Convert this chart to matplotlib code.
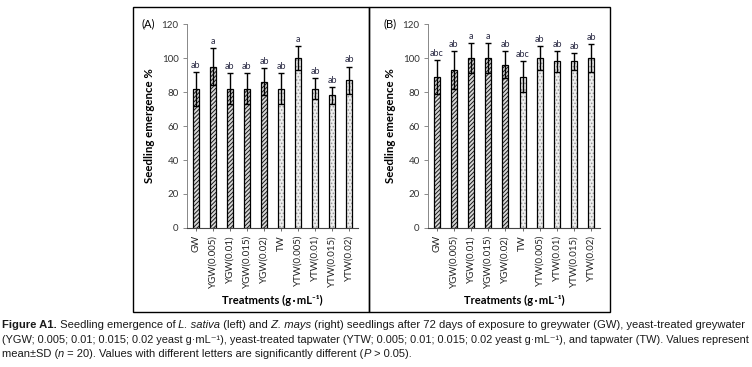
import numpy as np
import matplotlib.pyplot as plt
from matplotlib.patches import Rectangle

W, H = 752, 367

treatments = ['GW', 'YGW(0.005)', 'YGW(0.01)', 'YGW(0.015)', 'YGW(0.02)',
              'TW', 'YTW(0.005)', 'YTW(0.01)', 'YTW(0.015)', 'YTW(0.02)']

# (A) L. sativa
lettuce_mean = [82, 95, 82, 82, 86, 82, 100, 82, 78, 87]
lettuce_sd = [10, 11, 9, 9, 8, 9, 7, 6, 5, 8]
lettuce_letters = ['ab', 'a', 'ab', 'ab', 'ab', 'ab', 'a', 'ab', 'ab', 'ab']

# (B) Z. mays
maize_mean = [89, 93, 100, 100, 96, 89, 100, 98, 98, 100]
maize_sd = [10, 11, 9, 9, 8, 9, 7, 6, 5, 8]
maize_letters = ['abc', 'ab', 'a', 'a', 'ab', 'abc', 'ab', 'ab', 'ab', 'ab']

chart_font = ['Lato', 'DejaVu Sans']
cap_font = ['Liberation Sans Narrow', 'Liberation Sans', 'DejaVu Sans']
plt.rcParams['font.family'] = chart_font
plt.rcParams['hatch.linewidth'] = 0.7

fig = plt.figure(figsize=(W / 100, H / 100), dpi=100)


def px_axes(l, t, r, b):
    return fig.add_axes([l / W, 1 - b / H, (r - l) / W, (b - t) / H])


def draw_panel(ax, means, sds, letters):
    x = np.arange(len(treatments))
    dark = x < 5
    for i in x:
        if dark[i]:
            ax.bar(i, means[i], 0.35, color='#d8d8d8', edgecolor='#1a1a1a',
                   hatch='////////', linewidth=0, zorder=2)
        else:
            ax.bar(i, means[i], 0.35, color='#eeeeee', edgecolor='#9a9a9a',
                   hatch='.....', linewidth=0, zorder=2)
    ax.bar(x, means, 0.35, fill=False, edgecolor='black', linewidth=0.9, zorder=3)
    ax.errorbar(x, means, yerr=sds, fmt='none', ecolor='black', elinewidth=1,
                capsize=2, capthick=1, zorder=4)
    for i in x:
        ax.text(i, means[i] + sds[i] + 1.2, letters[i], ha='center', va='bottom',
                fontsize=6.5, color='#2a2a44')
    ax.set_xlim(-0.5, 9.5)
    ax.set_ylim(0, 120)
    ax.set_yticks(range(0, 121, 20))
    ax.set_xticks(x)
    ax.set_xticklabels(treatments, rotation=90, fontsize=7)
    ax.tick_params(axis='y', labelsize=7, length=3, width=0.6, colors='#777777',
                   labelcolor='#333333', pad=3)
    ax.tick_params(axis='x', length=2, width=0.6, colors='#555555',
                   labelcolor='#222222', pad=3)
    for s in ['top', 'right']:
        ax.spines[s].set_visible(False)
    ax.spines['left'].set_color('#888888')
    ax.spines['bottom'].set_color('#444444')
    ax.spines['left'].set_linewidth(0.7)
    ax.spines['bottom'].set_linewidth(0.8)
    ax.set_ylabel('Seedling emergence %', fontsize=8.3, fontweight='bold', labelpad=5)
    ax.set_xlabel('Treatments (g\u2009\u00b7\u2009mL\u207b\u00b9)', fontsize=8,
                  fontweight='bold', labelpad=5)


ax1 = px_axes(187, 24, 358, 228)
draw_panel(ax1, lettuce_mean, lettuce_sd, lettuce_letters)
ax2 = px_axes(428, 24, 600, 228)
draw_panel(ax2, maize_mean, maize_sd, maize_letters)

fig.text(141 / W, 1 - 24 / H, '(A)', fontsize=8, va='center', ha='left')
fig.text(383 / W, 1 - 24 / H, '(B)', fontsize=8, va='center', ha='left')

# panel frames
for l, r in [(133, 369), (369, 610)]:
    fig.add_artist(Rectangle((l / W, 1 - 312 / H), (r - l) / W, 305 / H,
                             fill=False, edgecolor='black', linewidth=1,
                             transform=fig.transFigure))

# caption
renderer = fig.canvas.get_renderer()


def caption_line(parts, y, size, width=None):
    def place(sz):
        xpos = 2
        made = []
        for s, weight, style in parts:
            t = fig.text(xpos / W, 1 - y / H, s, fontsize=sz, family=cap_font,
                         fontweight=weight, fontstyle=style, va='baseline',
                         ha='left', color='#1a1a1a')
            xpos += t.get_window_extent(renderer).width
            made.append(t)
        return made, xpos - 2
    made, w = place(size)
    if width is not None:
        for t in made:
            t.remove()
        size = size * width / w
        place(size)
    return size


n, b, i = 'normal', 'bold', 'italic'
s1 = caption_line([('Figure A1.', b, n), (' Seedling emergence of', n, n),
                   (' L. sativa', n, i), (' (left) and', n, n), (' Z. mays', n, i),
                   (' (right) seedlings after 72 days of exposure to greywater (GW), yeast-treated greywater', n, n)],
                  328, 7, width=746)
s2 = caption_line([('(YGW; 0.005; 0.01; 0.015; 0.02 yeast g\u00b7mL\u207b\u00b9), yeast-treated tapwater '
                    '(YTW; 0.005; 0.01; 0.015; 0.02 yeast g\u00b7mL\u207b\u00b9), and tapwater (TW). Values represent', n, n)],
                  343, 7, width=746)
caption_line([('mean\u00b1SD (', n, n), ('n', n, i), (' = 20). Values with different letters are significantly different (', n, n),
              ('P', n, i), (' > 0.05).', n, n)], 357, (s1 + s2) / 2)

fig.savefig('out.png', dpi=100)
